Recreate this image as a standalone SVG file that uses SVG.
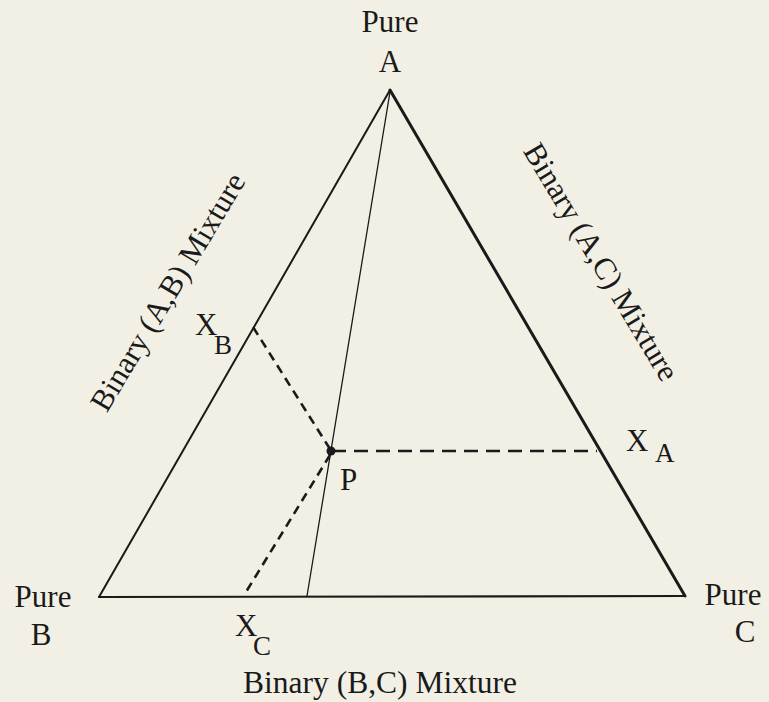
<svg xmlns="http://www.w3.org/2000/svg" width="769" height="702" viewBox="0 0 769 702">
<style>
text{font-family:"Liberation Serif","Times New Roman",serif;fill:#1a1a1a;font-size:31px}
.mid{text-anchor:middle}
.sub{font-size:27px}
.edge{stroke:#1a1a1a;fill:none;stroke-linecap:round;stroke-linejoin:round}
.dash{stroke:#1a1a1a;fill:none;stroke-width:2.6}
</style>
<rect width="769" height="702" fill="#f2f0e5"/>
<g id="triangle">
<line class="edge" x1="390" y1="90" x2="99" y2="597" stroke-width="2"/>
<line class="edge" x1="390" y1="90" x2="685" y2="596" stroke-width="3"/>
<line class="edge" x1="99" y1="597" x2="685" y2="596" stroke-width="2.2"/>
</g>
<g id="connectors">
<line class="edge" x1="390" y1="92" x2="307" y2="596" stroke-width="1.3"/>
<line class="dash" x1="332" y1="451" x2="597" y2="451" stroke-dasharray="14 8" stroke-width="3"/>
<line class="dash" x1="330" y1="449" x2="253" y2="327" stroke-dasharray="9 6"/>
<line class="dash" x1="330" y1="455" x2="246" y2="592" stroke-dasharray="9 6"/>
</g>
<g id="node-P">
<circle cx="331" cy="451" r="4.5" fill="#1a1a1a"/>
<text x="340" y="490">P</text>
</g>
<g id="node-A">
<text class="mid" x="390" y="32">Pure</text>
<text class="mid" x="390" y="72">A</text>
</g>
<g id="node-B">
<text class="mid" x="43" y="607">Pure</text>
<text class="mid" x="41" y="645">B</text>
</g>
<g id="node-C">
<text class="mid" x="733" y="605">Pure</text>
<text class="mid" x="745" y="642">C</text>
</g>
<g id="node-XA">
<text x="626" y="451">X</text>
<text class="sub" x="655" y="462">A</text>
</g>
<g id="node-XB">
<text x="195" y="335">X</text>
<text class="sub" x="214" y="354">B</text>
</g>
<g id="node-XC">
<text x="235" y="636">X</text>
<text class="sub" x="253" y="655">C</text>
</g>
<g id="label-AB">
<text class="mid" transform="translate(168,292) rotate(-59)" y="10">Binary (A,B) Mixture</text>
</g>
<g id="label-AC">
<text class="mid" transform="translate(601,262) rotate(59)" y="10">Binary (A,C) Mixture</text>
</g>
<g id="label-BC">
<text class="mid" x="380" y="693" style="font-size:31.5px">Binary (B,C) Mixture</text>
</g>
</svg>
